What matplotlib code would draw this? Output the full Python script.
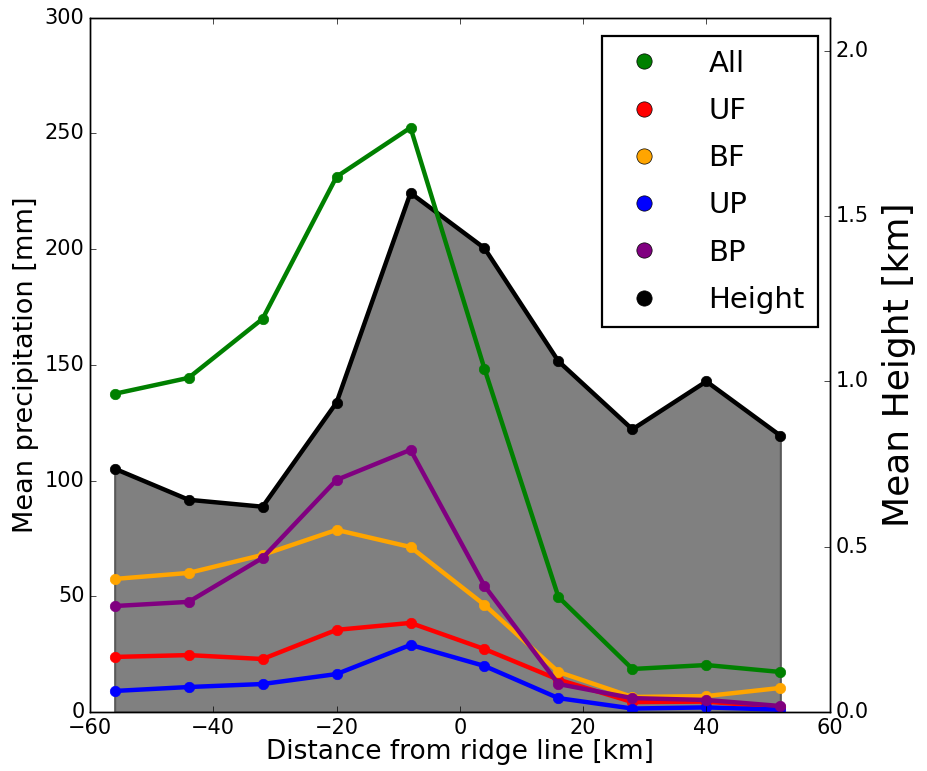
import matplotlib
matplotlib.use("Agg")
import matplotlib.pyplot as plt
from matplotlib.lines import Line2D

# distance from ridge line [km]
distance = [-56, -44, -32, -20, -8, 4, 16, 28, 40, 52]

# mean precipitation [mm]
precip_all = [137.5, 144.4, 169.9, 231.3, 252.5, 148.3, 49.7, 18.6, 20.3, 17.3]
precip_uf = [23.8, 24.6, 22.9, 35.5, 38.5, 27.2, 14.0, 4.3, 4.5, 2.0]
precip_bf = [57.5, 60.1, 67.9, 78.7, 71.3, 46.3, 17.3, 6.5, 6.9, 10.4]
precip_up = [9.1, 10.8, 12.1, 16.4, 29.0, 19.9, 6.0, 1.5, 2.0, 1.0]
precip_bp = [45.8, 47.6, 66.6, 100.3, 113.3, 54.5, 12.1, 6.0, 5.2, 2.6]

# mean height [km]
height = [0.736, 0.642, 0.621, 0.936, 1.570, 1.403, 1.061, 0.855, 1.0, 0.836]

series = [
    ("All", precip_all, "green"),
    ("UF", precip_uf, "red"),
    ("BF", precip_bf, "orange"),
    ("UP", precip_up, "blue"),
    ("BP", precip_bp, "purple"),
]

plt.style.use("classic")
plt.rcParams["font.family"] = ["DejaVu Sans"]

fig = plt.figure(figsize=(9.28, 7.71), dpi=100, facecolor="white")
ax = fig.add_axes([0.097, 0.0765, 0.797, 0.9005])
ax2 = ax.twinx()

# height on the right axis, drawn underneath the precipitation lines
ax2.fill_between(distance, 0, height, facecolor="0.5", edgecolor="0.35", linewidth=1.5)
ax2.plot(distance, height, color="black", lw=3.2, marker="o", ms=7.5, mec="black")
ax2.set_ylim(0, 2.1)
ax2.set_yticks([0.0, 0.5, 1.0, 1.5, 2.0])
ax2.set_ylabel("Mean Height [km]", fontsize=26, labelpad=10)
ax2.tick_params(labelsize=15)

for name, vals, col in series:
    ax.plot(distance, vals, color=col, lw=3.2, marker="o", ms=7.5, mec=col)

ax.set_zorder(ax2.get_zorder() + 1)
ax.patch.set_visible(False)
ax.set_xlim(-60, 60)
ax.set_ylim(0, 300)
ax.set_xlabel("Distance from ridge line [km]", fontsize=19, labelpad=1)
ax.set_ylabel("Mean precipitation [mm]", fontsize=19.5, labelpad=4)
ax.tick_params(labelsize=15)
ax.tick_params(axis="y", right=False)

handles = [Line2D([], [], ls="none", marker="o", ms=11, mfc=c, mec="black")
           for _, _, c in series]
handles.append(Line2D([], [], ls="none", marker="o", ms=11, mfc="black", mec="black"))
labels = [s[0] for s in series] + ["Height"]
leg = ax.legend(handles, labels, loc="upper right", numpoints=1, fontsize=21,
                borderpad=0.45, labelspacing=0.66, handletextpad=1.2,
                borderaxespad=0, bbox_to_anchor=(0.984, 0.973))
leg.get_frame().set_linewidth(1.6)

fig.savefig("out.png", dpi=100, facecolor="white")
